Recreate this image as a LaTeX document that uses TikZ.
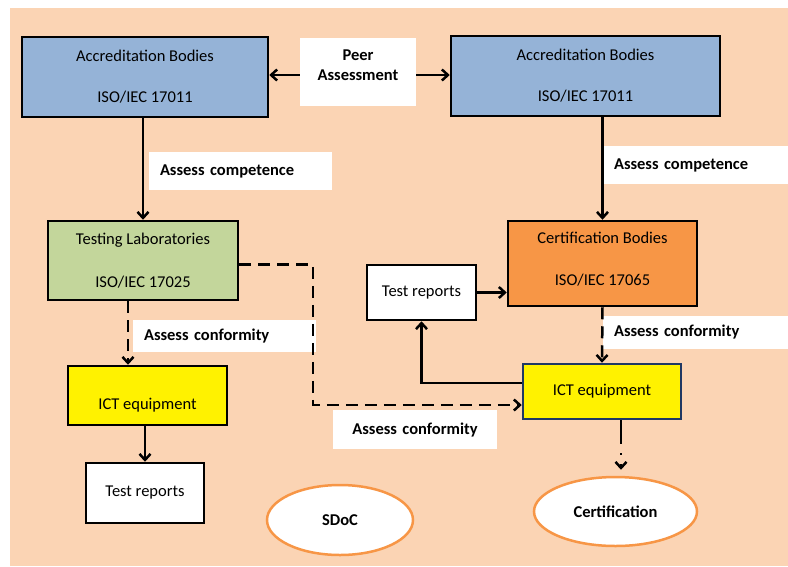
\documentclass[tikz,border=0pt]{standalone}
\usepackage{fontspec}
\setmainfont{Carlito}
\usetikzlibrary{arrows.meta,shapes.geometric}
\definecolor{peach}{HTML}{FBD4B4}
\definecolor{abblue}{HTML}{95B3D7}
\definecolor{tlgreen}{HTML}{C3D69B}
\definecolor{cborange}{HTML}{F79646}
\definecolor{navy}{HTML}{1F3864}
\begin{document}
\begin{tikzpicture}[x=1pt,y=-1pt]
\tikzset{
    box/.style 2 args={draw, line width=2.5pt, inner sep=0pt, minimum width=#1, minimum height=#2, align=center, font=\fontsize{16.5}{20}\selectfont},
    note/.style 2 args={fill=white, inner ysep=0pt, inner xsep=11pt, text width=#1-22pt, minimum height=#2, align=left, font=\fontsize{16.5}{20}\selectfont\bfseries},
    oval/.style 2 args={ellipse, draw=cborange, line width=2.5pt, fill=white, inner sep=0pt, minimum width=#1, minimum height=#2, font=\fontsize{16.5}{20}\selectfont\bfseries},
    arr/.style={line width=2.5pt, -{Straight Barb[length=6pt,width=11pt]}},
    dasharr/.style={arr, dash pattern=on 12pt off 7pt}
}
\useasboundingbox (0,0) rectangle (788,566);
\fill[peach] (10,8) rectangle (788,566);

% bodies
\node[box={246pt}{80pt}, fill=abblue] (abl) at (145,77) {Accreditation Bodies\\[21pt]ISO/IEC 17011};
\node[box={269pt}{80pt}, fill=abblue] (abr) at (585.5,76) {Accreditation Bodies\\[21pt]ISO/IEC 17011};
\node[box={190pt}{79pt}, fill=tlgreen] (tl) at (143,260.5) {Testing Laboratories\\[23pt]ISO/IEC 17025};
\node[box={189pt}{85pt}, fill=cborange, text depth=9pt] (cb) at (602.5,263.5) {Certification Bodies\\[22pt]ISO/IEC 17065};
\node[box={109pt}{55pt}, fill=white] (trr) at (421.5,292.5) {Test reports};
\node[box={159pt}{59pt}, fill=yellow, text height=28pt, text depth=0pt] (ictl) at (147.5,395.5) {ICT equipment};
\node[box={158pt}{55pt}, fill=yellow, draw=navy] (ictr) at (602,391.5) {ICT equipment};
\node[box={118pt}{60pt}, fill=white] (trl) at (145,493) {Test reports};
\node[oval={146pt}{70pt}] (sdoc) at (340,520) {SDoC};
\node[oval={163pt}{69pt}] (cert) at (615.5,511.5) {Certification};

% labels
\node[note={116pt}{68pt}, align=center, text depth=34pt] (peer) at (358,72) {Peer\\Assessment};
\node[note={183pt}{38pt}] (comp1) at (240.5,171) {Assess competence};
\node[note={185pt}{38pt}] (comp2) at (695.5,165) {Assess competence};
\node[note={183pt}{32pt}] (conf1) at (224.5,336) {Assess conformity};
\node[note={164pt}{39pt}, align=center] (conf2) at (415,429.5) {Assess conformity};
\node[note={185pt}{33pt}] (conf3) at (695.5,332.5) {Assess conformity};

% connectors
\draw[arr] ([yshift=-3pt]peer.west) -- ([yshift=-3pt]peer.west -| abl.east);
\draw[arr] ([yshift=-3pt]peer.east) -- ([yshift=-3pt]peer.east -| abr.west);
\draw[arr] (abl.south -| tl.north) -- (tl.north);
\draw[arr] (abr.south -| cb.north) -- (cb.north);
\coordinate (tlout) at ([xshift=-15pt]tl.south);
\draw[dasharr] (tlout) -- (tlout |- ictl.north);
\draw[arr] (ictl.south -| trl.north) -- (trl.north);
\coordinate (bend) at (313,405);
\draw[dasharr] ([yshift=-4pt]tl.east) -| (bend) -- (bend -| ictr.west);
\draw[dasharr] (cb.south) -- (ictr.north);
\draw[arr] (trr.east) -- (trr.east -| cb.west);
\draw[arr] ([yshift=8.5pt]ictr.west) -| (trr.south);
\coordinate (ictout) at ([xshift=19pt]ictr.south);
\draw[arr, dash pattern=on 24pt off 9pt on 2pt off 9pt] (ictout) -- ([yshift=6pt]ictout |- cert.north);
\end{tikzpicture}
\end{document}
